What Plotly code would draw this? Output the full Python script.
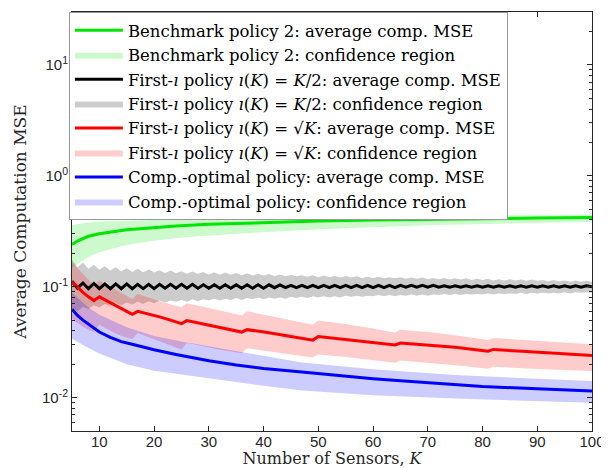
import plotly.graph_objects as go

K_all = list(range(5, 101))

# Benchmark policy 2 (green)
green_K = [5, 6, 8, 10, 15, 20, 24, 30, 40, 50, 60, 70, 80, 90, 100]
green_mean = [0.240, 0.258, 0.285, 0.300, 0.326, 0.342, 0.352, 0.365, 0.380, 0.391, 0.399, 0.406, 0.411, 0.416, 0.420]
greenband_K = [5, 8, 10, 15, 20, 25, 35, 50, 70, 100]
green_upper = [0.36, 0.38, 0.387, 0.395, 0.40, 0.405, 0.415, 0.425, 0.435, 0.447]
green_lower = [0.150, 0.185, 0.205, 0.238, 0.260, 0.278, 0.30, 0.33, 0.358, 0.386]

# First-i policy i(K)=K/2 (black), every K from 5 to 100
black_mean = [0.112, 0.097, 0.108, 0.096, 0.107, 0.096, 0.106, 0.096, 0.106, 0.096,
              0.106, 0.096, 0.105, 0.096, 0.105, 0.096, 0.105, 0.097, 0.105, 0.097,
              0.105, 0.097, 0.105, 0.097, 0.104, 0.097, 0.104, 0.097, 0.104, 0.097,
              0.104, 0.097, 0.104, 0.097, 0.104, 0.097, 0.104, 0.098, 0.104, 0.098,
              0.103, 0.098, 0.103, 0.098, 0.103, 0.098, 0.103, 0.098, 0.103, 0.098,
              0.103, 0.098, 0.103, 0.098, 0.103, 0.098, 0.103, 0.098, 0.103, 0.098,
              0.103, 0.099, 0.103, 0.099, 0.103, 0.099, 0.103, 0.099, 0.102, 0.099,
              0.102, 0.099, 0.102, 0.099, 0.102, 0.099, 0.102, 0.099, 0.102, 0.099,
              0.102, 0.099, 0.102, 0.099, 0.102, 0.099, 0.102, 0.099, 0.102, 0.099,
              0.102, 0.099, 0.102, 0.099, 0.102, 0.100]
black_upper = [0.175, 0.150, 0.165, 0.145, 0.158, 0.142, 0.153, 0.140, 0.150, 0.138,
               0.147, 0.136, 0.145, 0.135, 0.143, 0.134, 0.141, 0.133, 0.140, 0.132,
               0.138, 0.131, 0.137, 0.130, 0.136, 0.129, 0.135, 0.128, 0.134, 0.128,
               0.133, 0.127, 0.132, 0.126, 0.131, 0.126, 0.130, 0.125, 0.129, 0.124,
               0.128, 0.124, 0.127, 0.123, 0.127, 0.122, 0.126, 0.122, 0.125, 0.121,
               0.125, 0.121, 0.124, 0.120, 0.123, 0.120, 0.123, 0.119, 0.122, 0.119,
               0.122, 0.118, 0.121, 0.118, 0.121, 0.117, 0.120, 0.117, 0.120, 0.116,
               0.119, 0.116, 0.119, 0.115, 0.118, 0.115, 0.118, 0.114, 0.117, 0.114,
               0.117, 0.114, 0.116, 0.113, 0.116, 0.113, 0.115, 0.112, 0.115, 0.112,
               0.114, 0.111, 0.114, 0.111, 0.113, 0.111]
black_lower = [0.062, 0.060, 0.066, 0.063, 0.068, 0.065, 0.070, 0.067, 0.071, 0.068,
               0.072, 0.069, 0.073, 0.070, 0.074, 0.071, 0.075, 0.072, 0.075, 0.073,
               0.076, 0.073, 0.077, 0.074, 0.077, 0.075, 0.078, 0.075, 0.078, 0.076,
               0.079, 0.076, 0.079, 0.077, 0.080, 0.077, 0.080, 0.078, 0.080, 0.078,
               0.081, 0.079, 0.081, 0.079, 0.082, 0.080, 0.082, 0.080, 0.082, 0.080,
               0.083, 0.081, 0.083, 0.081, 0.083, 0.082, 0.084, 0.082, 0.084, 0.082,
               0.084, 0.083, 0.085, 0.083, 0.085, 0.083, 0.085, 0.084, 0.086, 0.084,
               0.086, 0.084, 0.086, 0.085, 0.086, 0.085, 0.087, 0.085, 0.087, 0.086,
               0.087, 0.086, 0.088, 0.086, 0.088, 0.087, 0.088, 0.087, 0.088, 0.087,
               0.089, 0.087, 0.089, 0.088, 0.089, 0.088]

# First-i policy i(K)=sqrt(K) (red)
red_K = [5, 6, 7, 8, 9, 10, 12, 14, 16, 17, 19, 21, 23, 25, 26, 29, 32, 36, 37, 41, 45, 49,
         50, 55, 60, 64, 65, 70, 75, 81, 82, 88, 94, 100]
red_mean = [0.111, 0.099, 0.089, 0.081, 0.075, 0.081, 0.072, 0.063, 0.0565, 0.060, 0.057, 0.0535, 0.050, 0.0465,
            0.0495, 0.046, 0.043, 0.039, 0.041, 0.0385, 0.0355, 0.033,
            0.0355, 0.0335, 0.0315, 0.0298, 0.031, 0.0297, 0.0285, 0.0262, 0.0272, 0.0260, 0.0250, 0.0240]
red_upper = [0.165, 0.147, 0.130, 0.115, 0.103, 0.114, 0.100, 0.087, 0.0775, 0.086, 0.080, 0.074, 0.069, 0.0655,
             0.071, 0.066, 0.061, 0.055, 0.060, 0.055, 0.050, 0.0455,
             0.0495, 0.046, 0.042, 0.0385, 0.041, 0.039, 0.0365, 0.033, 0.0345, 0.0330, 0.0315, 0.0303]
red_lower = [0.0516, 0.047, 0.0435, 0.041, 0.039, 0.0455, 0.040, 0.036, 0.0337, 0.0383, 0.035, 0.032, 0.0295, 0.0272,
             0.031, 0.029, 0.027, 0.0251, 0.0279, 0.0262, 0.0245, 0.023,
             0.0245, 0.0232, 0.0218, 0.0206, 0.0216, 0.0206, 0.0196, 0.0182, 0.0190, 0.0183, 0.0178, 0.0174]

# Comp.-optimal policy (blue)
blue_K = [5, 6, 7, 8, 10, 12, 14, 16, 20, 24, 30, 35, 40, 47, 55, 60, 65, 74, 80, 90, 100]
blue_mean = [0.0625, 0.055, 0.050, 0.046, 0.039, 0.035, 0.032, 0.0303, 0.027, 0.0245, 0.0215, 0.0197, 0.0183,
             0.017, 0.0155, 0.0148, 0.0142, 0.0132, 0.0126, 0.0120, 0.0115]
blueband_K = [5, 8, 10, 15, 20, 25, 30, 40, 47, 60, 75, 90, 100]
blue_upper = [0.088, 0.065, 0.056, 0.043, 0.036, 0.032, 0.029, 0.024, 0.0207, 0.018, 0.016, 0.0148, 0.0141]
blue_lower = [0.034, 0.028, 0.025, 0.020, 0.0175, 0.0163, 0.015, 0.0128, 0.0116, 0.0105, 0.0098, 0.0093, 0.0090]

y_tickvals = [0.01, 0.1, 1, 10]
y_ticktext = ["10<sup>-2</sup>", "10<sup>-1</sup>", "10<sup>0</sup>", "10<sup>1</sup>"]
y_minorvals = [0.006, 0.007, 0.008, 0.009, 0.02, 0.03, 0.04, 0.05, 0.06, 0.07, 0.08, 0.09,
               0.2, 0.3, 0.4, 0.5, 0.6, 0.7, 0.8, 0.9, 2, 3, 4, 5, 6, 7, 8, 9, 20, 30]
x_tickvals = [10, 20, 30, 40, 50, 60, 70, 80, 90, 100]

names = [
    "Benchmark policy 2: average comp. MSE",
    "Benchmark policy 2: confidence region",
    "First-<i>ı</i> policy <i>ı</i>(<i>K</i>) = <i>K</i>/2: average comp. MSE",
    "First-<i>ı</i> policy <i>ı</i>(<i>K</i>) = <i>K</i>/2: confidence region",
    "First-<i>ı</i> policy <i>ı</i>(<i>K</i>) = √<i>K</i>: average comp. MSE",
    "First-<i>ı</i> policy <i>ı</i>(<i>K</i>) = √<i>K</i>: confidence region",
    "Comp.-optimal policy: average comp. MSE",
    "Comp.-optimal policy: confidence region",
]

fig = go.Figure()

def band(xk, lo, hi, color, name, rank):
    fig.add_trace(go.Scatter(
        x=list(xk) + list(xk)[::-1], y=list(hi) + list(lo)[::-1],
        fill="toself", fillcolor=color, line=dict(width=0), mode="lines",
        name=name, legendrank=rank, hoverinfo="skip"))

def line(xk, y, color, name, rank):
    fig.add_trace(go.Scatter(
        x=xk, y=y, mode="lines", line=dict(color=color, width=3),
        name=name, legendrank=rank))

band(greenband_K, green_lower, green_upper, "rgba(0,230,0,0.2)", names[1], 2)
band(K_all, black_lower, black_upper, "rgba(0,0,0,0.2)", names[3], 4)
band(red_K, red_lower, red_upper, "rgba(255,0,0,0.2)", names[5], 6)
band(blueband_K, blue_lower, blue_upper, "rgba(0,0,255,0.2)", names[7], 8)
line(green_K, green_mean, "#00e600", names[0], 1)
line(K_all, black_mean, "#000000", names[2], 3)
line(red_K, red_mean, "#ff0000", names[4], 5)
line(blue_K, blue_mean, "#0000ff", names[6], 7)

axis_common = dict(showline=True, mirror="ticks", linecolor="#262626", linewidth=1,
                   ticks="inside", ticklen=5, tickcolor="#262626", showgrid=False, zeroline=False,
                   automargin=False,
                   tickfont=dict(family="Liberation Sans, Arial", size=15, color="#262626"))

fig.update_xaxes(range=[5, 100], tickvals=x_tickvals, ticklabelstandoff=-3,
                 title=dict(text="Number of Sensors, <i>K</i>", standoff=9,
                            font=dict(family="DejaVu Serif", size=16, color="#262626")),
                 **axis_common)
fig.update_yaxes(type="log", range=[-2.301, 1.477], tickvals=y_tickvals, ticktext=y_ticktext,
                 minor=dict(ticks="inside", ticklen=3, tickcolor="#262626", tickvals=y_minorvals),
                 title=dict(text="Average Computation MSE", standoff=11,
                            font=dict(family="DejaVu Serif", size=17, color="#262626")),
                 **axis_common)

# The page body adds an 8px offset, so the figure is sized and margined to land on the same pixels.
fig.update_layout(
    width=601, height=460,
    margin=dict(l=64, r=17, t=4, b=37),
    paper_bgcolor="white", plot_bgcolor="white",
    legend=dict(x=-0.006, y=1.0, xanchor="left", yanchor="top",
                bgcolor="white", bordercolor="#999999", borderwidth=1,
                font=dict(family="DejaVu Serif", size=16.5, color="#000000"),
                itemwidth=48, tracegroupgap=0, traceorder="normal"),
    showlegend=True,
)

fig.write_html("out.html")
